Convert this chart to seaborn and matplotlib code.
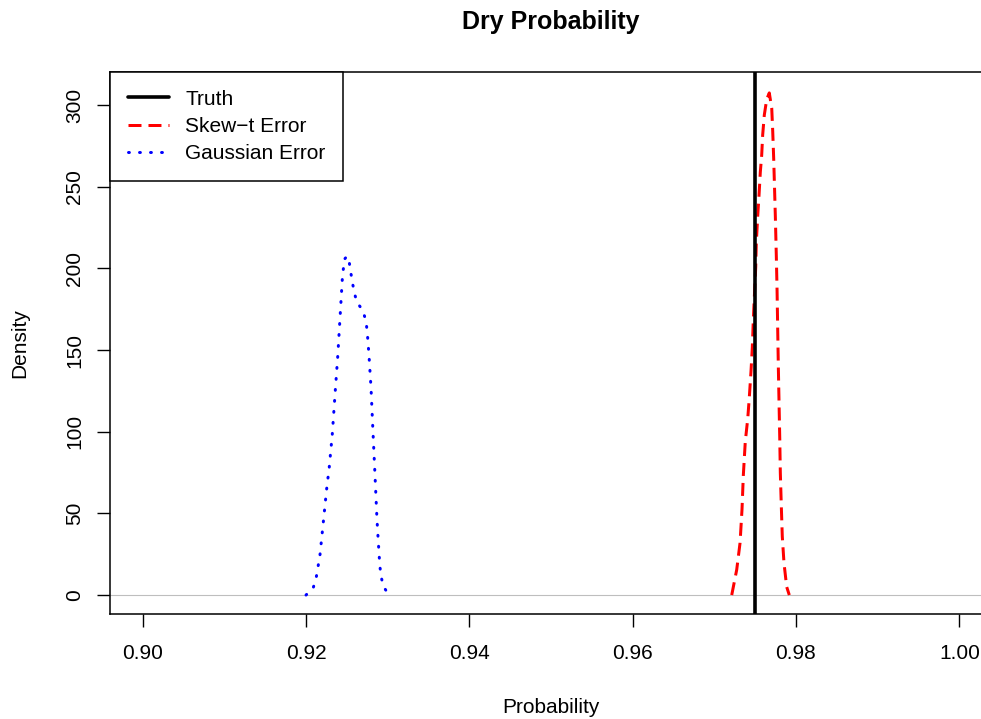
import numpy as np
import pandas as pd
import seaborn as sns
import matplotlib.pyplot as plt

# density curves
skew_x = [0.97213, 0.97274, 0.97315, 0.97339, 0.97355, 0.97379, 0.97409, 0.97428,
          0.97449, 0.97465, 0.97477, 0.97494, 0.97507, 0.97514, 0.97531, 0.97547,
          0.97563, 0.97580, 0.97592, 0.97612, 0.97641, 0.97673, 0.97703, 0.97715,
          0.97727, 0.97735, 0.97747, 0.97759, 0.97768, 0.97776, 0.97784, 0.97792,
          0.97801, 0.97808, 0.97820, 0.97832, 0.97853, 0.97886, 0.97918]
skew_y = [0, 15.5, 32, 52.6, 73.3, 94, 108, 120.8,
          137, 151.7, 168, 187, 201, 215.7, 232, 244.6,
          259, 269.4, 281.8, 294, 303.5, 307.5, 298, 284,
          267, 253, 232, 207.6, 187, 162.6, 139, 118.7,
          96, 75, 54.7, 36, 19.6, 5, 0]

gauss_x = [0.92000, 0.92089, 0.92126, 0.92171, 0.92212, 0.92253, 0.92285, 0.92322,
           0.92359, 0.92388, 0.92420, 0.92444, 0.92457, 0.92477, 0.92500, 0.92523,
           0.92542, 0.92563, 0.92588, 0.92621, 0.92698, 0.92735, 0.92750, 0.92771,
           0.92796, 0.92820, 0.92845, 0.92869, 0.92885, 0.92902, 0.92915, 0.92943,
           0.93012]
gauss_y = [0, 4.5, 11, 24.5, 44.7, 65, 78.4, 98.6,
           125.5, 145.7, 172.7, 193, 199.6, 206, 207.5, 206,
           199.6, 193, 186, 179.6, 174, 167.6, 161, 147,
           127, 100, 73.3, 46.4, 32.9, 19.4, 12.7, 5.9,
           0]

truth = 0.975
x_ticks = [0.90, 0.92, 0.94, 0.96, 0.98, 1.00]
y_ticks = [0, 50, 100, 150, 200, 250, 300]

sns.set_style("ticks")
plt.rcParams['font.family'] = ['Liberation Sans', 'DejaVu Sans']
plt.rcParams['font.size'] = 15
plt.rcParams['text.color'] = 'black'
plt.rcParams['axes.labelcolor'] = 'black'
plt.rcParams['xtick.color'] = 'black'
plt.rcParams['ytick.color'] = 'black'

skew = pd.DataFrame({'x': skew_x, 'y': skew_y})
gauss = pd.DataFrame({'x': gauss_x, 'y': gauss_y})

fig = plt.figure(figsize=(9.81, 7.19), dpi=100)
# plot region runs past the right edge of the figure, like the reference
ax = fig.add_axes([110 / 981, 1 - 614 / 719, 882 / 981, 542 / 719])

ax.axhline(0, color='#bebebe', lw=0.8, zorder=1)
sns.lineplot(data=skew, x='x', y='y', ax=ax, sort=False, estimator=None,
             color='red', lw=2.16, linestyle=(0, (4.33, 2.33)), label='Skew\u2212t Error')
sns.lineplot(data=gauss, x='x', y='y', ax=ax, sort=False, estimator=None,
             color='blue', lw=2.16, linestyle=(0, (0.3, 3.37)), label='Gaussian Error',
             dash_capstyle='round')
ax.axvline(truth, color='black', lw=2.6, label='Truth', zorder=3)

ax.set_xlim(0.896, 1.004)
ax.set_ylim(-11.6, 320.3)
ax.set_xticks(x_ticks)
ax.set_xticklabels([f'{t:.2f}' for t in x_ticks])
ax.set_yticks(y_ticks)
ax.set_yticklabels([str(t) for t in y_ticks])
ax.tick_params(axis='both', length=9.4, width=1.0, colors='black', labelsize=15)
ax.tick_params(axis='x', pad=12)
ax.tick_params(axis='y', pad=9, labelrotation=90)
plt.setp(ax.get_yticklabels(), va='center')

for s in ax.spines.values():
    s.set_linewidth(1.1)
    s.set_color('black')

ax.set_title('Dry Probability', fontsize=18, fontweight='bold', pad=31)
ax.set_xlabel('Probability', fontsize=15)
ax.xaxis.set_label_coords(0.5, -0.1827)
ax.xaxis.label.set_va('baseline')
ax.set_ylabel('Density', fontsize=15)
ax.yaxis.set_label_coords(-0.102, 0.5)
ax.yaxis.label.set_va('center')

handles, labels = ax.get_legend_handles_labels()
order = [labels.index('Truth'), labels.index('Skew\u2212t Error'), labels.index('Gaussian Error')]
leg = ax.legend([handles[i] for i in order], [labels[i] for i in order],
                loc='upper left', bbox_to_anchor=(0, 1), borderaxespad=0,
                fancybox=False, framealpha=1, edgecolor='black', fontsize=15,
                handlelength=2.0, handletextpad=0.75, borderpad=0.85, labelspacing=0.4)
leg.get_frame().set_linewidth(1.1)
for t in leg.get_texts():
    t.set_color('black')

fig.savefig('out.png', dpi=100)
